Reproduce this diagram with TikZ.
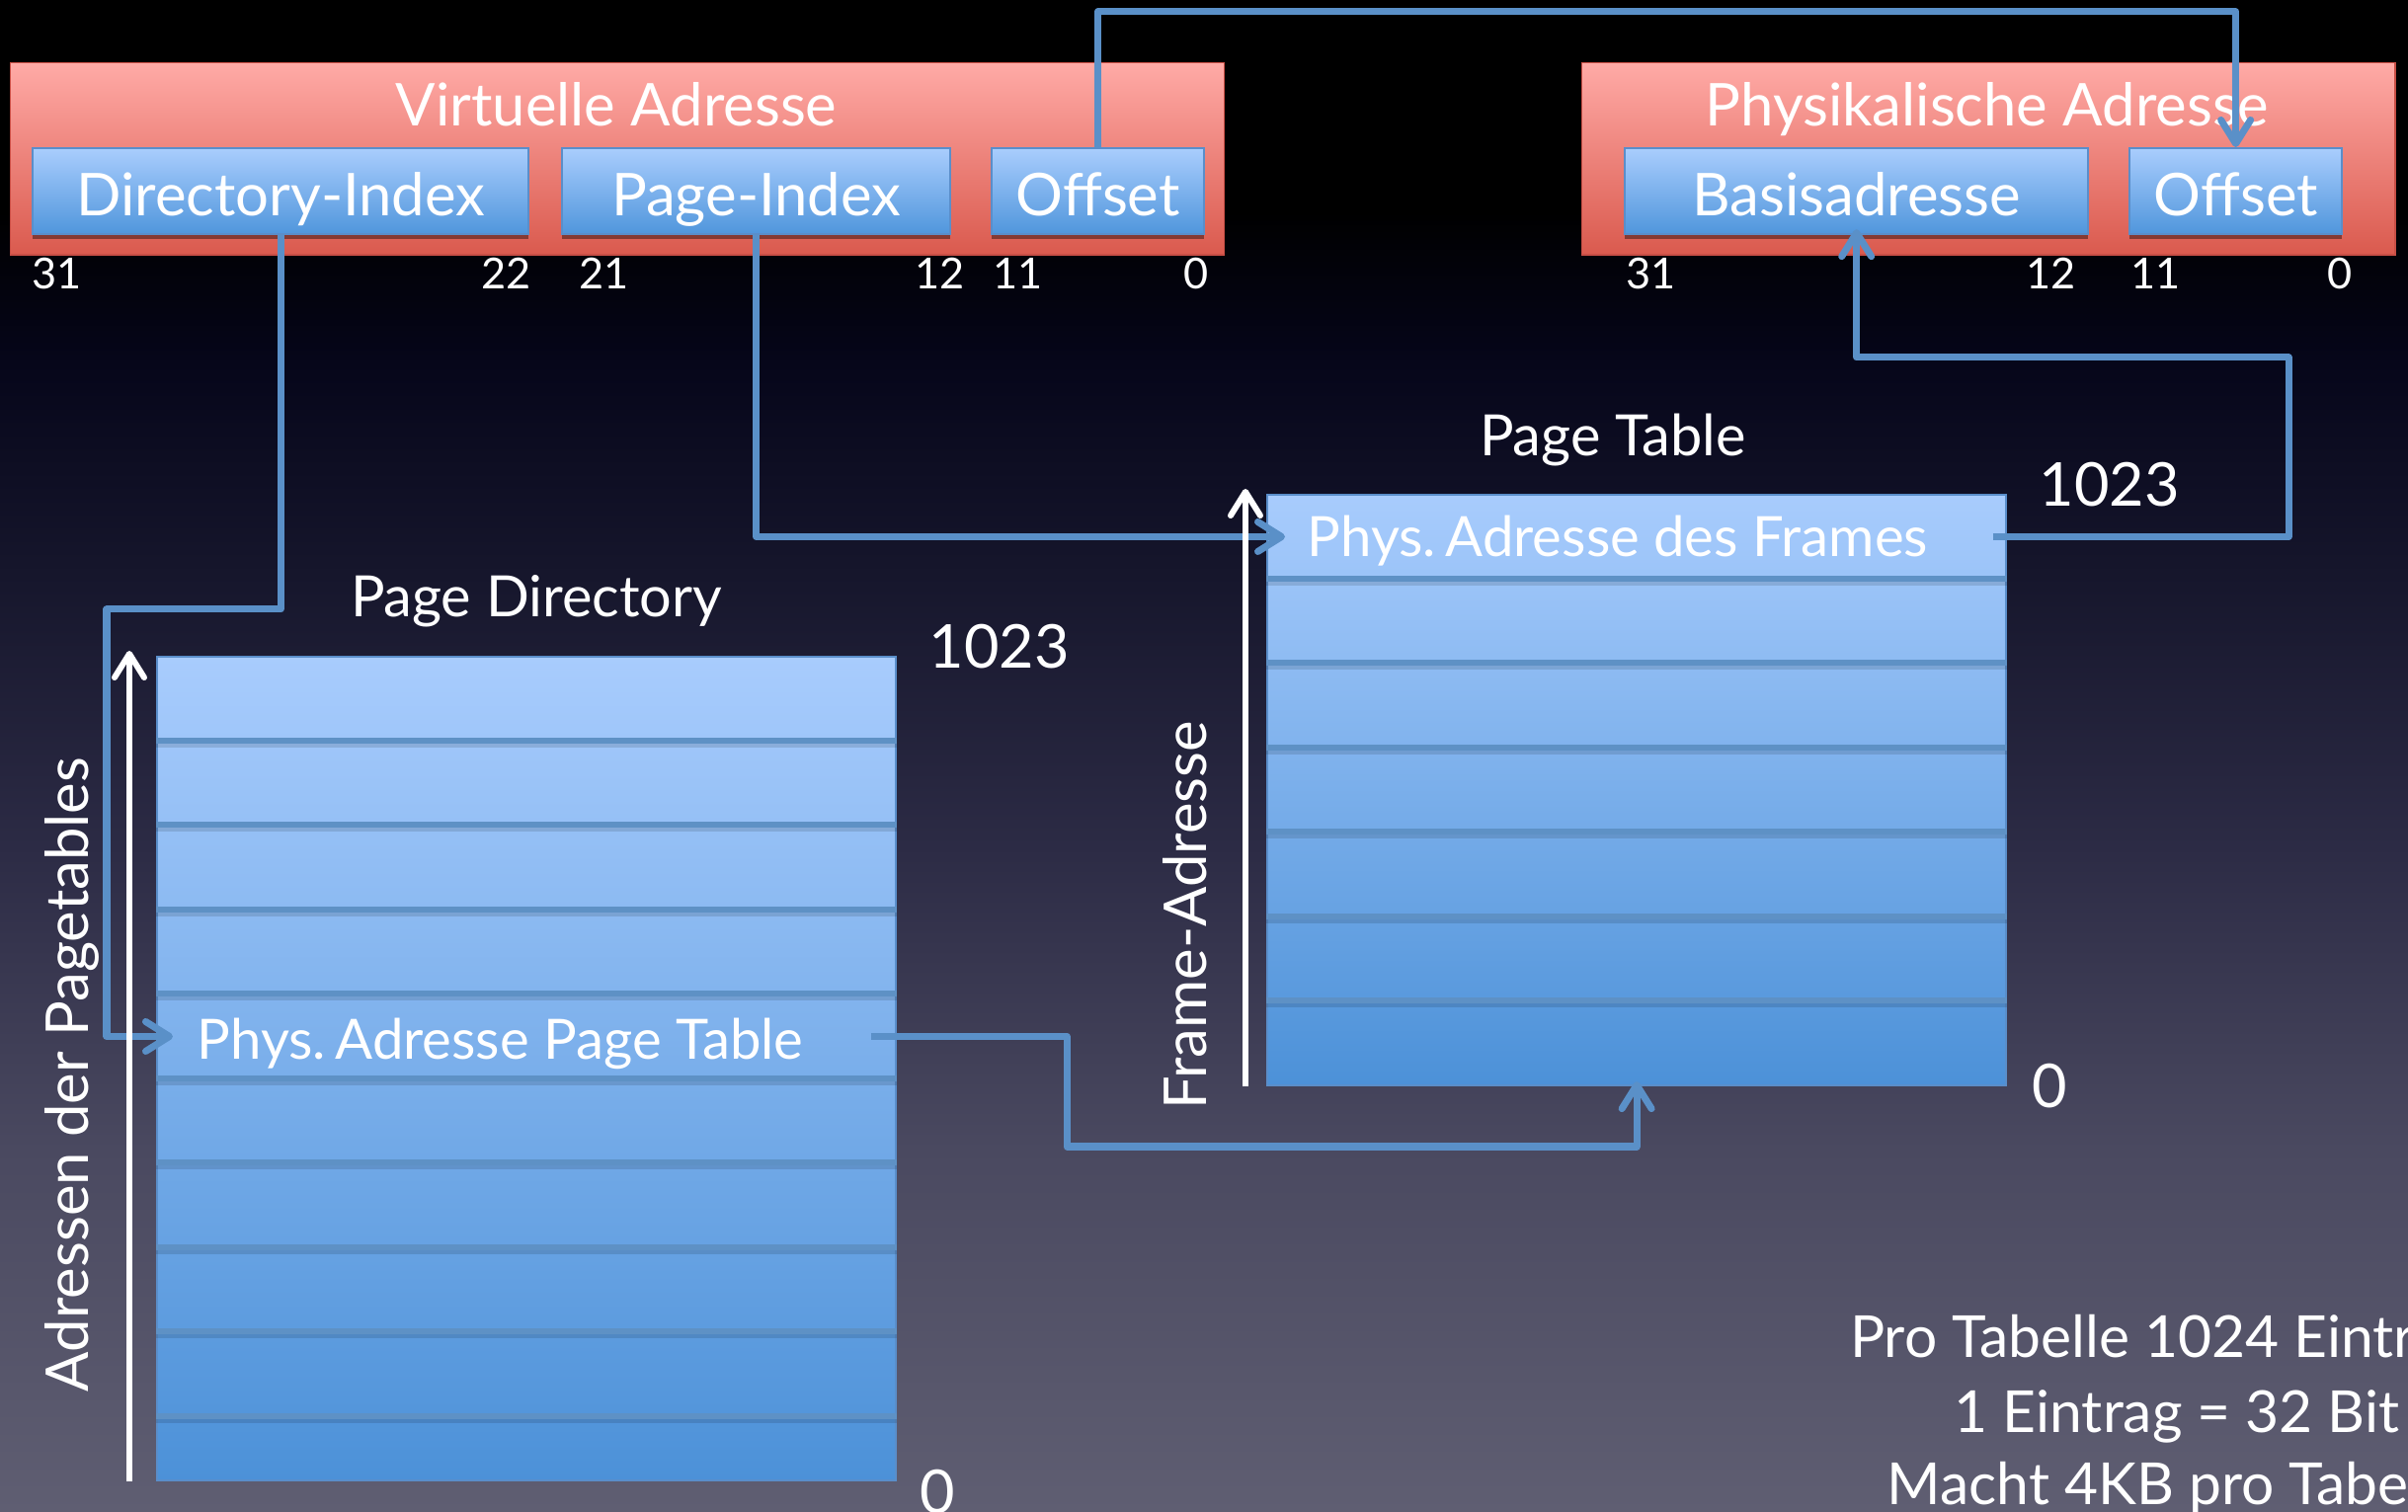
\documentclass[tikz,border=0pt]{standalone}
\usepackage{fontspec}
\setmainfont{Lato}
\usetikzlibrary{arrows.meta,shadows}

\definecolor{bgbot}{HTML}{5F5E72}
\definecolor{bgb2}{HTML}{4A4960}
\definecolor{bgmid}{HTML}{2C2B45}
\definecolor{bgnavy}{HTML}{16162C}
\definecolor{bgdeep}{HTML}{06061A}
\definecolor{redtop}{HTML}{FFAAA6}
\definecolor{redbot}{HTML}{DA5A4E}
\definecolor{redline}{HTML}{C84E45}
\definecolor{bluetop}{HTML}{A9CDFD}
\definecolor{bluebot}{HTML}{5096DC}
\definecolor{blueline}{HTML}{5A8ECA}
\definecolor{tabtop}{HTML}{A8CCFD}
\definecolor{tabbot}{HTML}{4C91D8}
\definecolor{sepblue}{HTML}{5E91C5}
\definecolor{connblue}{HTML}{5A90C8}

% backdrop: black at the top, fading to a grey violet at the bottom
\pgfdeclareverticalshading{backdrop}{100bp}{color(0bp)=(bgbot); color(25bp)=(bgbot); color(37bp)=(bgb2); color(47bp)=(bgmid); color(56bp)=(bgnavy); color(63bp)=(bgdeep); color(68bp)=(black); color(100bp)=(black)}

\begin{document}
\begin{tikzpicture}[x=0.01cm, y=-0.01cm,
  redbox/.style={draw=redline, line width=0.4pt, top color=redtop, bottom color=redbot,
    anchor=north west, minimum height=1.94cm, inner sep=0pt},
  fieldbox/.style={draw=blueline, line width=0.6pt, top color=bluetop, bottom color=bluebot,
    anchor=north west, minimum height=0.87cm, inner sep=0pt, text height=0.5cm, text depth=0pt,
    font=\fontsize{17}{20}\selectfont, text=white,
    drop shadow={shadow xshift=0cm, shadow yshift=-0.05cm, opacity=0.4, fill=black}},
  table/.style={draw=blueline, line width=0.5pt, top color=tabtop, bottom color=tabbot,
    anchor=north west, minimum width=7.48cm, inner sep=0pt},
  rowslot/.style={anchor=north west, minimum width=7.48cm, minimum height=0.855cm, inner sep=0pt},
  sepline/.style={draw=sepblue, line width=0.06cm},
  sepshade/.style={draw=black, opacity=0.12, line width=0.04cm},
  conn/.style={draw=connblue, line width=0.07cm, line join=round,
    -{Straight Barb[length=0.24cm, width=0.3cm, round]}},
  axis/.style={draw=white, line width=0.06cm,
    -{Straight Barb[length=0.24cm, width=0.3cm, round]}},
  bitnum/.style={text=white, font=\fontsize{12.3}{14}\selectfont, inner sep=0pt},
  big/.style={text=white, font=\fontsize{17}{20}\selectfont, inner sep=0pt},
  entry/.style={text=white, font=\fontsize{16}{19}\selectfont, inner sep=0pt},
  title/.style={text=white, font=\fontsize{16.4}{19}\selectfont, inner sep=0pt},
  index/.style={text=white, font=\fontsize{17.4}{20}\selectfont, inner sep=0pt},
  note/.style={text=white, font=\fontsize{16.7}{20}\selectfont, inner sep=0pt}
]
\useasboundingbox (0,0) rectangle (2438,1531);
\clip (0,0) rectangle (2438,1531);
\shade[shading=backdrop] (0,0) rectangle (2438,1531);

% address registers
\node[redbox, minimum width=12.28cm] (virt) at (10,63) {};
\node[redbox, minimum width=8.23cm] (phys) at (1601,63) {};
\node[big, anchor=base] (virttitle) at (624,128) {Virtuelle Adresse};
\node[big, anchor=base] (phystitle) at (2012,128) {Physikalische Adresse};
\node[fieldbox, minimum width=5.02cm] (dir) at (32,149) {Directory-Index};
\node[fieldbox, minimum width=3.93cm] (pidx) at (568,149) {Page-Index};
\node[fieldbox, minimum width=2.15cm] (off1) at (1003,149) {Offset};
\node[fieldbox, minimum width=4.69cm] (base) at (1644,149) {Basisadresse};
\node[fieldbox, minimum width=2.15cm] (off2) at (2155,149) {Offset};

% bit positions
\node[bitnum, anchor=base west] (b31v) at (32,293) {31};
\node[bitnum, anchor=base east] (b22v) at (538,293) {22};
\node[bitnum, anchor=base west] (b21v) at (586,293) {21};
\node[bitnum, anchor=base east] (b12v) at (977,293) {12};
\node[bitnum, anchor=base west] (b11v) at (1005,293) {11};
\node[bitnum, anchor=base east] (b0v) at (1224,293) {0};
\node[bitnum, anchor=base west] (b31p) at (1646,293) {31};
\node[bitnum, anchor=base east] (b12p) at (2102,293) {12};
\node[bitnum, anchor=base west] (b11p) at (2157,293) {11};
\node[bitnum, anchor=base east] (b0p) at (2382,293) {0};

% page directory
\node[table, minimum height=8.34cm] (pd) at (158,664) {};
\foreach \k in {1,...,9} {
  \draw[sepshade] ([yshift={-(\k*0.855cm+0.05cm)}]pd.north west) -- ([yshift={-(\k*0.855cm+0.05cm)}]pd.north east);
  \draw[sepline] ([yshift={-\k*0.855cm}]pd.north west) -- ([yshift={-\k*0.855cm}]pd.north east);
}
\node[rowslot] (pdrow) at (158,1006) {};
\node[entry, anchor=base west] (pdtxt) at (199,1073) {Phys.\,Adresse Page Table};
\node[title, anchor=base] (pdtitle) at (543,625) {Page Directory};
\node[index, anchor=base west] (pdtop) at (940,677) {1023};
\node[index, anchor=base west] (pdbot) at (931,1532) {0};

% page table
\node[table, minimum height=5.98cm] (pt) at (1282,500) {};
\foreach \k in {1,...,6} {
  \draw[sepshade] ([yshift={-(\k*0.855cm+0.05cm)}]pt.north west) -- ([yshift={-(\k*0.855cm+0.05cm)}]pt.north east);
  \draw[sepline] ([yshift={-\k*0.855cm}]pt.north west) -- ([yshift={-\k*0.855cm}]pt.north east);
}
\node[rowslot] (ptrow) at (1282,500) {};
\node[entry, anchor=base west] (pttxt) at (1323,564) {Phys.\,Adresse des Frames};
\node[title, anchor=base] (pttitle) at (1633,462) {Page Table};
\node[index, anchor=base west] (pttop) at (2064,513) {1023};
\node[index, anchor=base west] (ptbot) at (2057,1122) {0};

% connectors
\coordinate (topline) at (1700,12);
\coordinate (dirbend) at (108,617);
\coordinate (ptbend) at (2317,362);
\coordinate (pdbend) at (1080,1161);
\draw[conn] (off1.north) |- (topline) -| (off2.north);
\draw[conn] (dir.south) |- (dirbend) |- ([xshift=0.17cm]pdrow.west);
\draw[conn] (pidx.south) |- ([xshift=0.19cm]ptrow.west);
\draw[conn, shorten >=-0.06cm] ([xshift=-0.14cm]ptrow.east) -| (ptbend) -| (base.south);
\draw[conn, shorten >=-0.05cm] ([xshift=-0.26cm]pdrow.east) -| (pdbend) -| (pt.south);

% address axes
\draw[axis] ([xshift=-0.27cm]pd.south west) -- ([xshift=-0.27cm, yshift=0.05cm]pd.north west);
\draw[axis] ([xshift=-0.21cm]pt.south west) -- ([xshift=-0.21cm, yshift=0.05cm]pt.north west);
\node[big, rotate=90, anchor=base] (pdaxis) at (89,1088) {Adressen der Pagetables};
\node[big, rotate=90, anchor=base] (ptaxis) at (1221,927) {Frame-Adresse};

% size note
\node[note, anchor=base] (note1) at (2204,1375) {Pro Tabelle 1024 Einträge};
\node[note, anchor=base] (note2) at (2204,1450) {1 Eintrag = 32 Bit};
\node[note, anchor=base] (note3) at (2204,1523) {Macht 4KB pro Tabelle};
\end{tikzpicture}
\end{document}
